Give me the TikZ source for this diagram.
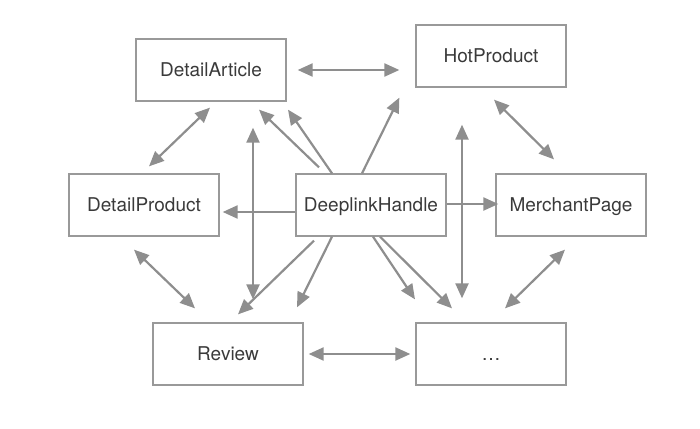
\documentclass[tikz,border=0pt]{standalone}
\usepackage{fontspec}
\setmainfont{TeX Gyre Heros}
\usetikzlibrary{arrows.meta,calc}
\definecolor{boxgray}{HTML}{999999}
\definecolor{linkgray}{HTML}{8E8E8E}
\definecolor{textgray}{HTML}{3A3A3A}
\begin{document}
\begin{tikzpicture}[
        x                       = 1pt,
        y                       = -1pt,
        box/.style              = {draw=boxgray, line width=1.3pt, minimum width=150pt, minimum height=62pt,
                                   inner sep=0pt, text=textgray, text height=13.7pt, text depth=0pt,
                                   font=\fontsize{19}{23}\selectfont},
        link/.style             = {draw=linkgray, line width=2.2pt, -{Triangle[length=15pt,width=13pt]}},
        both/.style             = {link, {Triangle[length=15pt,width=13pt]}-{Triangle[length=15pt,width=13pt]}},
        %sloped
      ]
    \useasboundingbox (0,0) rectangle (700,428);
        \node[box] (da)   at (211,70)  {DetailArticle};
        \node[box] (hp)   at (491,56)  {HotProduct};
        \node[box] (dp)   at (144,205) {DetailProduct};
        \node[box] (dh)   at (371,205) {DeeplinkHandle};
        \node[box] (mp)   at (571,205) {MerchantPage};
        \node[box] (rv)   at (228,354) {Review};
        \node[box] (more) at (491,354) {\dots};
        % outer ring
        \draw[both] ($(da.east)+(11,0)$)   -- ($(da.east -| hp.west)+(-16,0)$);
        \draw[both] ($(da.south)+(-1,6)$)  -- ($(dp.north)+(5,-7)$);
        \draw[both] ($(hp.south)+(3,12)$)  -- ($(mp.north)+(-17,-14)$);
        \draw[both] ($(dp.south)+(-10,13)$) -- ($(rv.north)+(-33,-14)$);
        \draw[both] ($(rv.east)+(5,0)$)    -- ($(more.west)+(-5,0)$);
        \draw[both] ($(mp.south)+(-6,13)$) -- ($(more.north)+(14,-14)$);
        \draw[both] ($(da.south)+(42,26)$) -- ($(rv.north)+(25,-23)$);
        \draw[both] ($(hp.south)+(-29,37)$) -- ($(more.north)+(-29,-24)$);
        % from DeeplinkHandle
        \draw[link] ($(dh.west)+(0,7)$)    -- ($(dp.east)+(3,7)$);
        \draw[link] ($(dh.east)+(0,-1)$)   -- ($(mp.west)+(3,-1)$);
        \draw[link] ($(dh.north)+(-52,-6)$) -- ($(da.south)+(48,8)$);
        \draw[link] ($(dh.north)+(-39,0)$) -- ($(da.south)+(77,8)$);
        \draw[link] ($(dh.north)+(-9,0)$)  -- ($(hp.south west)+(-16,10)$);
        \draw[link] ($(dh.south)+(-57,4)$) -- ($(rv.north)+(10,-8)$);
        \draw[link] ($(dh.south)+(-39,0)$) -- ($(rv.north)+(69,-15)$);
        \draw[link] ($(dh.south)+(2,0)$)   -- ($(more.north)+(-76,-23)$);
        \draw[link] ($(dh.south)+(9,0)$)   -- ($(more.north)+(-39,-14)$);
    \end{tikzpicture}
\end{document}
